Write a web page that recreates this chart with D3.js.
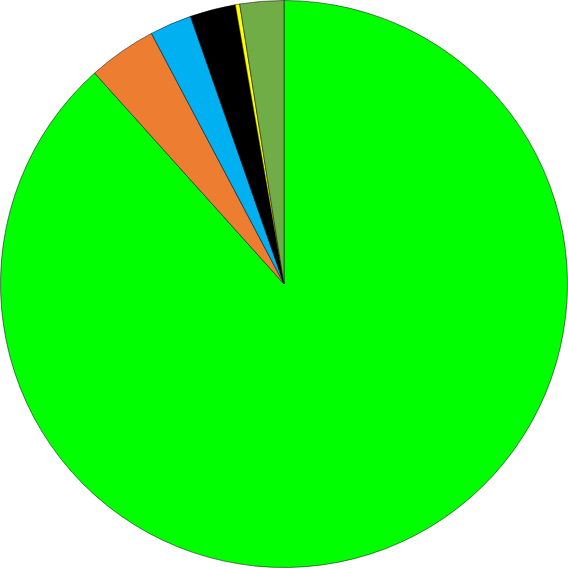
<!DOCTYPE html>
<html><head><meta charset="utf-8">
<script src="https://cdn.jsdelivr.net/npm/d3@7"></script>
<style>html,body{margin:0;padding:0;background:#fff;}</style>
</head><body>
<svg id="chart" width="568" height="568"></svg>
<script>
// slice values, clockwise from 12 o'clock
var labels = ["A", "B", "C", "D", "E", "F"];
var values = [88.4, 3.9, 2.4, 2.6, 0.25, 2.5];
var colors = ["#00ff00", "#ed7d31", "#00b0f0", "#000000", "#ffff00", "#70ad47"];

var svg = d3.select("#chart");
var r = 284;
var g = svg.append("g").attr("transform", "translate(284,284)");

var pie = d3.pie().sort(null).value(function(d){ return d; });
var arc = d3.arc().innerRadius(0).outerRadius(r - 0.5);

g.selectAll("path")
  .data(pie(values))
  .enter().append("path")
  .attr("d", arc)
  .attr("fill", function(d, i){ return colors[i]; })
  .attr("stroke", "#000")
  .attr("stroke-width", 0.5);
</script>
</body></html>
